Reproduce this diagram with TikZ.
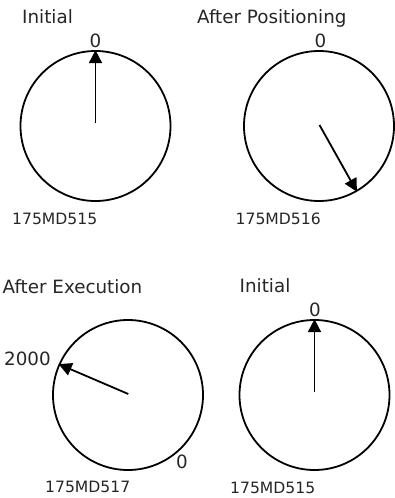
\documentclass[tikz,border=0pt]{standalone}
\usepackage{fontspec}
\setmainfont{DejaVu Sans}
\usetikzlibrary{arrows.meta}
\begin{document}
\begin{tikzpicture}[x=1pt,y=-1pt,
  dial/.style={circle,draw,line width=1.8pt,minimum size=150pt,inner sep=0pt},
  hand/.style={line width=1.8pt,-{Triangle[length=13pt,width=13pt]}},
  title/.style={font=\fontsize{18.3}{20}\selectfont,text=black!85,inner sep=0pt},
  caption/.style={font=\fontsize{15.6}{18}\selectfont,text=black!85,inner sep=0pt},
  lbl/.style={font=\fontsize{18.3}{20}\selectfont,text=black!85,inner sep=0pt}]
\useasboundingbox (0,0) rectangle (394,498);
% dial 1
\node[dial] (d1) at (95.5,126) {};
\coordinate (c1) at (95.5,123);
\draw[hand] (c1) -- (d1.north);
\node[title,anchor=west] (t1) at (22,17) {Initial};
\node[lbl] (z1) at (95.5,41) {0};
\node[caption,anchor=west] (k1) at (12,219) {175MD515};
% dial 2
\node[dial] (d2) at (319,126) {};
\coordinate (c2) at (319.5,125);
\draw[hand] (c2) -- (d2.-60);
\node[title,anchor=west] (t2) at (197,18) {After Positioning};
\node[lbl] (z2) at (320.5,41) {0};
\node[caption,anchor=west] (k2) at (235.5,219) {175MD516};
% dial 3
\node[dial] (d3) at (128,395) {};
\coordinate (c3) at (128.3,394);
\draw[hand] (c3) -- (d3.156.5);
\node[title,anchor=west] (t3) at (2.5,287) {After Execution};
\node[lbl,anchor=west] (l3) at (4,358.5) {2000};
\node[lbl] (z3) at (182,462) {0};
\node[caption,anchor=west] (k3) at (45,487) {175MD517};
% dial 4
\node[dial] (d4) at (314.5,395) {};
\coordinate (c4) at (314.5,392);
\draw[hand] (c4) -- (d4.north);
\node[title,anchor=west] (t4) at (239.5,286) {Initial};
\node[lbl] (z4) at (315,310) {0};
\node[caption,anchor=west] (k4) at (230,488) {175MD515};
\end{tikzpicture}
\end{document}
